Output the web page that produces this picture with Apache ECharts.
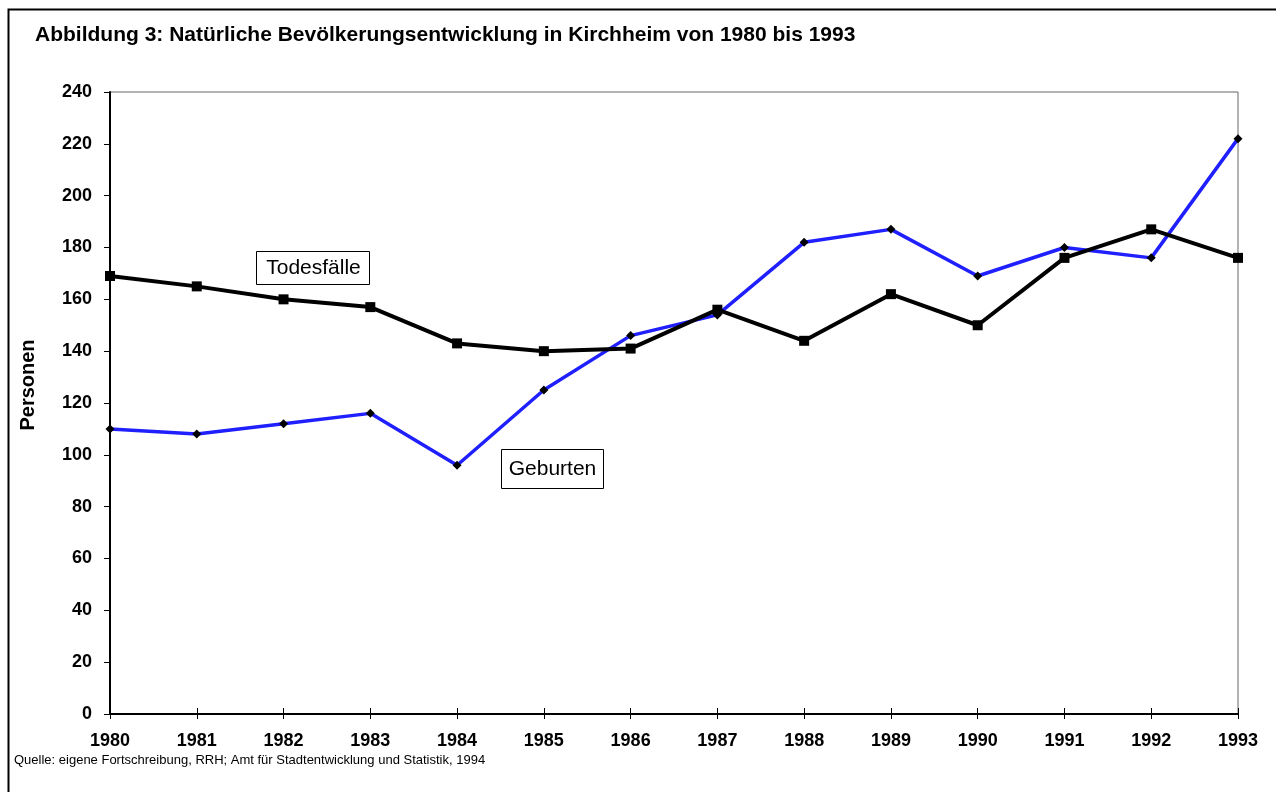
<!DOCTYPE html>
<html>
<head>
<meta charset="utf-8">
<script src="https://cdn.jsdelivr.net/npm/echarts@6/dist/echarts.min.js"></script>
<style>
  html, body { margin: 0; padding: 0; background: #fff; }
  #chart { width: 1276px; height: 792px; }
</style>
</head>
<body>
<div id="chart"></div>
<script>
const years = ['1980', '1981', '1982', '1983', '1984', '1985', '1986', '1987', '1988', '1989', '1990', '1991', '1992', '1993'];
const geburten = [110, 108, 112, 116, 96, 125, 146, 154, 182, 187, 169, 180, 176, 222];
const todesfaelle = [169, 165, 160, 157, 143, 140, 141, 156, 144, 162, 150, 176, 187, 176];

const font = 'Liberation Sans, Arial, sans-serif';
const myChart = echarts.init(document.getElementById('chart'));

const option = {
  animation: false,
  backgroundColor: '#fff',
  title: {
    text: 'Abbildung 3: Natürliche Bevölkerungsentwicklung in Kirchheim von 1980 bis 1993',
    left: 30,
    top: 20,
    textStyle: { fontFamily: font, fontSize: 21, fontWeight: 'bold', color: '#000' },
  },
  grid: {
    left: 110,
    right: 38,
    top: 92,
    bottom: 78,
    show: true,
    borderColor: '#666',
    borderWidth: 1,
  },
  xAxis: [
    {
      type: 'category',
      data: years,
      boundaryGap: false,
      axisLine: { lineStyle: { color: '#000', width: 2 } },
      axisTick: { length: 5, lineStyle: { color: '#000', width: 1 } },
      axisLabel: { fontFamily: font, fontSize: 18, fontWeight: 'bold', color: '#000', margin: 18 },
    },
    {
      type: 'category',
      data: years,
      position: 'bottom',
      boundaryGap: false,
      axisLine: { show: false },
      axisTick: { inside: true, length: 6, lineStyle: { color: '#000', width: 1 } },
      axisLabel: { show: false },
    },
  ],
  yAxis: {
    type: 'value',
    min: 0,
    max: 240,
    interval: 20,
    name: 'Personen',
    nameLocation: 'middle',
    nameGap: 72,
    nameTextStyle: { fontFamily: font, fontSize: 20, fontWeight: 'bold', color: '#000', padding: [0, 0, 0, 36] },
    splitLine: { show: false },
    axisLine: { show: true, lineStyle: { color: '#000', width: 2 } },
    axisTick: { show: true, length: 6, lineStyle: { color: '#000', width: 1 } },
    axisLabel: { fontFamily: font, fontSize: 18, fontWeight: 'bold', color: '#000', margin: 18 },
  },
  series: [
    {
      name: 'Geburten',
      type: 'line',
      data: geburten,
      z: 2,
      symbol: 'diamond',
      symbolSize: 9,
      itemStyle: { color: '#000' },
      lineStyle: { color: '#1f1fff', width: 3.5 },
    },
    {
      name: 'Todesfälle',
      type: 'line',
      data: todesfaelle,
      z: 3,
      symbol: 'rect',
      symbolSize: 10,
      itemStyle: { color: '#000' },
      lineStyle: { color: '#000', width: 4 },
    },
  ],
  graphic: [
    {
      type: 'rect',
      left: 6,
      top: 7,
      shape: { width: 1300, height: 800 },
      style: { fill: 'none', stroke: '#000', lineWidth: 2 },
      silent: true,
    },
    {
      type: 'group',
      left: 256,
      top: 251,
      children: [
        { type: 'rect', shape: { width: 113, height: 33 }, style: { fill: '#fff', stroke: '#000', lineWidth: 1 } },
        { type: 'text', x: 57, y: 17, style: { text: 'Todesfälle', fontFamily: font, fontSize: 21, fill: '#000', align: 'center', verticalAlign: 'middle' } },
      ],
    },
    {
      type: 'group',
      left: 501,
      top: 449,
      children: [
        { type: 'rect', shape: { width: 102, height: 39 }, style: { fill: '#fff', stroke: '#000', lineWidth: 1 } },
        { type: 'text', x: 51, y: 20, style: { text: 'Geburten', fontFamily: font, fontSize: 21, fill: '#000', align: 'center', verticalAlign: 'middle' } },
      ],
    },
    {
      type: 'text',
      left: 14,
      top: 754,
      style: { text: 'Quelle: eigene Fortschreibung, RRH; Amt für Stadtentwicklung und Statistik, 1994', fontFamily: font, fontSize: 13, fill: '#000' },
    },
  ],
};

myChart.setOption(option);
window.addEventListener('resize', myChart.resize);
</script>
</body>
</html>
